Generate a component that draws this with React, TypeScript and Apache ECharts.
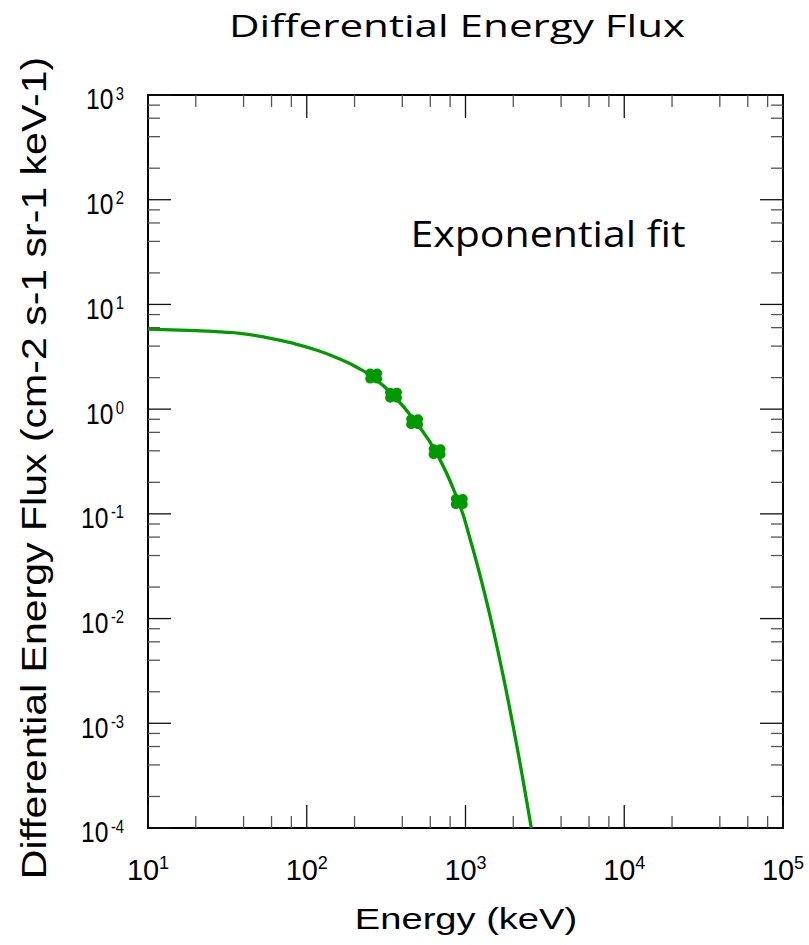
import React, { useEffect, useRef } from "react";
import * as echarts from "echarts";

// Measured spectrum points (keV, flux)
const energyPoints = [264, 352, 478, 662, 914];
const fluxPoints = [2.07, 1.36, 0.758, 0.392, 0.131];

// Exponential fit curve, sampled along its trace
const fitEnergy = [
  10, 20, 30, 38, 55, 79, 115, 163, 208, 264, 352, 478, 662, 914, 1057, 1222, 1413, 1633, 1888, 2182, 2381, 2598,
];
const fitFlux = [
  5.82, 5.61, 5.45, 5.3, 4.85, 4.31, 3.67, 2.99, 2.5, 2.0, 1.35, 0.778, 0.372, 0.124, 0.0612, 0.0275, 0.01133, 0.00425,
  0.00145, 0.000453, 0.000215, 0.0001,
];

// Axis ranges and minor tick multipliers
const xRange = [10, 100000];
const yRange = [0.0001, 1000];
const minorMultipliers = [2, 4, 6, 8];

const GREEN = "#009a00";
const SANS = "'Liberation Sans', Arial, sans-serif";
const TITLE_FONT = "'Open Sans', sans-serif";

// Clover-shaped marker: four overlapping discs plus a centre disc
const cloverPath =
  "path://M0,4.5a4.5,4.5 0 1,0 9,0a4.5,4.5 0 1,0 -9,0Z" +
  "M6,4.5a4.5,4.5 0 1,0 9,0a4.5,4.5 0 1,0 -9,0Z" +
  "M0,9.5a4.5,4.5 0 1,0 9,0a4.5,4.5 0 1,0 -9,0Z" +
  "M6,9.5a4.5,4.5 0 1,0 9,0a4.5,4.5 0 1,0 -9,0Z" +
  "M3.5,7a4,4 0 1,0 8,0a4,4 0 1,0 -8,0Z";

function decadeTicks(min: number, max: number): [number, number][] {
  const out: [number, number][] = [];
  const e0 = Math.round(Math.log10(min));
  const e1 = Math.round(Math.log10(max));
  for (let e = e0; e <= e1; e++) {
    const d = Math.pow(10, e);
    out.push([d, 1]);
    if (e < e1) minorMultipliers.forEach((m) => out.push([d * m, 0]));
  }
  return out;
}

function supLabel(v: number) {
  const e = Math.round(Math.log10(v));
  return `{b|10}{s|${e}}`;
}

function textBox(text: string, x: number, y: number, size: number, family: string, extra: any = {}) {
  return {
    type: "text",
    x,
    y,
    ...extra,
    style: {
      text,
      x: 0,
      y: 0,
      fontFamily: family,
      fontSize: size,
      fill: "#000",
      align: "center",
      verticalAlign: "middle",
      textAlign: "center",
      textVerticalAlign: "middle",
    },
  };
}

export default function App() {
  const ref = useRef<HTMLDivElement>(null);

  useEffect(() => {
    if (!ref.current) return;
    const chart = echarts.init(ref.current, undefined, { renderer: "svg" });

    // tick data: [x, y, kind]; kind 0/1 = x minor/major, 2/3 = y minor/major
    const tickData: number[][] = [];
    decadeTicks(xRange[0], xRange[1]).forEach(([v, major]) => tickData.push([v, 1, major]));
    decadeTicks(yRange[0], yRange[1]).forEach(([v, major]) => tickData.push([100, v, 2 + major]));

    const option: echarts.EChartsOption = {
      animation: false,
      backgroundColor: "#ffffff",
      grid: {
        left: 148,
        right: 26,
        top: 95,
        bottom: 117,
        show: true,
        borderColor: "#000",
        borderWidth: 2,
        backgroundColor: "transparent",
      },
      xAxis: {
        type: "log",
        logBase: 10,
        min: xRange[0],
        max: xRange[1],
        axisLine: { show: false },
        axisTick: { show: false },
        splitLine: { show: false },
        minorTick: { show: false },
        axisLabel: {
          margin: 26,
          formatter: (v: number) => supLabel(v),
          rich: {
            b: { fontFamily: SANS, fontSize: 29, lineHeight: 30, verticalAlign: "bottom", color: "#000" },
            s: { fontFamily: SANS, fontSize: 18, lineHeight: 12, verticalAlign: "top", color: "#000" },
          },
        },
      },
      yAxis: {
        type: "log",
        logBase: 10,
        min: yRange[0],
        max: yRange[1],
        axisLine: { show: false },
        axisTick: { show: false },
        splitLine: { show: false },
        minorTick: { show: false },
        // condensed labels are drawn by the tick series below
        axisLabel: { show: false },
      },
      graphic: [
        textBox("Differential Energy Flux", 457, 25, 31, TITLE_FONT, { scaleX: 1.36 }),
        textBox("Exponential fit", 548, 233, 36, TITLE_FONT, { scaleX: 1.14 }),
        textBox("Energy (keV)", 466, 919, 30, SANS, { scaleX: 1.27 }),
        textBox("Differential Energy Flux (cm-2 s-1 sr-1 keV-1)", 33, 468, 36, SANS, {
          rotation: Math.PI / 2,
          scaleX: 1.14,
        }),
      ] as any,
      series: [
        {
          type: "custom",
          silent: true,
          clip: false,
          encode: { x: 0, y: 1 },
          data: tickData,
          z: 5,
          renderItem: (params: any, api: any) => {
            const cs = params.coordSys;
            const kind = api.value(2);
            const major = kind % 2 === 1;
            const len = major ? 23 : 12;
            const style = { stroke: major ? "#111" : "#555", lineWidth: 1.3 };
            if (kind < 2) {
              const px = api.coord([api.value(0), api.value(1)])[0];
              const b = cs.y + cs.height;
              return {
                type: "group",
                children: [
                  { type: "line", shape: { x1: px, y1: b, x2: px, y2: b - len }, style },
                  { type: "line", shape: { x1: px, y1: cs.y, x2: px, y2: cs.y + len }, style },
                ],
              };
            }
            const py = api.coord([api.value(0), api.value(1)])[1];
            const r = cs.x + cs.width;
            const children: any[] = [
              { type: "line", shape: { x1: cs.x, y1: py, x2: cs.x + len, y2: py }, style },
              { type: "line", shape: { x1: r, y1: py, x2: r - len, y2: py }, style },
            ];
            if (major) {
              children.push({
                type: "text",
                x: cs.x - 24,
                y: py + 4,
                scaleX: 0.82,
                style: {
                  text: supLabel(api.value(1)),
                  x: 0,
                  y: 0,
                  align: "right",
                  verticalAlign: "middle",
                  fill: "#000",
                  rich: {
                    b: { fontFamily: SANS, fontSize: 30, lineHeight: 30, verticalAlign: "bottom", fill: "#000" },
                    s: { fontFamily: SANS, fontSize: 18, lineHeight: 12, verticalAlign: "top", fill: "#000", padding: [0, 0, 0, 3] },
                  },
                },
              });
            }
            return { type: "group", children };
          },
        } as any,
        {
          type: "line",
          data: fitEnergy.map((e, i) => [e, fitFlux[i]]),
          smooth: 0.5,
          showSymbol: false,
          symbol: "none",
          lineStyle: { color: GREEN, width: 3.3 },
          z: 3,
        },
        {
          type: "scatter",
          data: energyPoints.map((e, i) => [e, fluxPoints[i]]),
          symbol: cloverPath,
          symbolSize: [17, 15],
          itemStyle: { color: GREEN, opacity: 1 },
          z: 4,
        },
      ],
    };

    chart.setOption(option);
    return () => chart.dispose();
  }, []);

  return (
    <div
      ref={ref}
      style={{ position: "absolute", left: 0, top: 0, width: 809, height: 945, background: "#fff" }}
    />
  );
}
